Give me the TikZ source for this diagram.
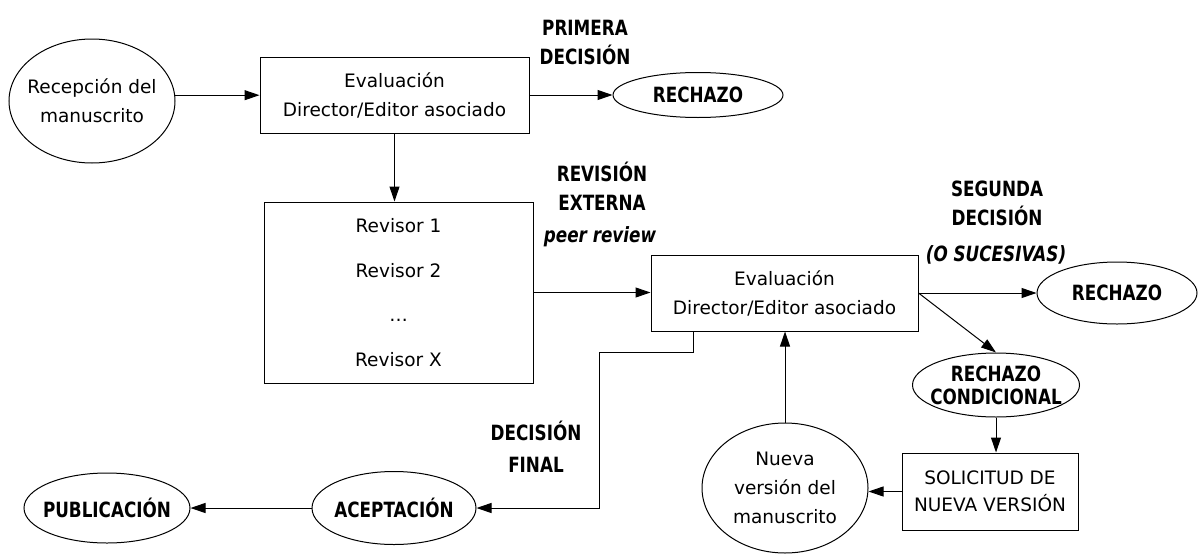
\documentclass[tikz,border=0pt]{standalone}
\usepackage{fontspec}
\setmainfont{DejaVu Sans}
\newfontfamily\labfont{DejaVu Sans}[FakeStretch=0.8]
\usetikzlibrary{shapes.geometric,arrows.meta}
\tikzset{
  txt/.style={font=\fontsize{18.5}{29}\selectfont, align=center, inner sep=0pt},
  lab/.style={font=\labfont\bfseries\fontsize{21}{29}\selectfont, align=center, inner sep=0pt},
  labit/.style={font=\labfont\bfseries\itshape\fontsize{21}{29}\selectfont, align=center, inner sep=0pt},
  box/.style={draw, rectangle, line width=1pt, inner sep=0pt, txt},
  ell/.style={draw, ellipse, line width=1pt, inner sep=0pt},
  arr/.style={line width=1pt, -{Triangle[length=15pt,width=10pt]}},
  ln/.style={line width=1pt}
}
\begin{document}
\begin{tikzpicture}[x=1pt,y=-1pt]
\useasboundingbox (0,0) rectangle (1198,554);
% nodes
\node[ell, minimum width=166pt, minimum height=124pt, label={[txt]center:Recepción del\\manuscrito}] (rec) at (92,101) {};
\node[box, minimum width=269pt, minimum height=76pt] (ev1) at (394.5,95) {Evaluación\\Director/Editor asociado};
\node[ell, minimum width=170pt, minimum height=45pt, label={[lab]center:RECHAZO}] (rech1) at (698,95) {};
\node[box, minimum width=269pt, minimum height=181pt, font=\fontsize{18.5}{44.7}\selectfont] (rev) at (398.5,292.5) {Revisor 1\\Revisor 2\\…\\Revisor X};
\node[box, minimum width=267pt, minimum height=76pt] (ev2) at (784.5,293) {Evaluación\\Director/Editor asociado};
\node[ell, minimum width=160pt, minimum height=62pt, label={[lab]center:RECHAZO}] (rech2) at (1117,293) {};
\node[ell, minimum width=167pt, minimum height=64pt, label={[lab, font=\labfont\bfseries\fontsize{21}{23}\selectfont]center:RECHAZO\\CONDICIONAL}] (rcond) at (996,385) {};
\node[box, minimum width=176pt, minimum height=77pt, font=\fontsize{18.5}{27}\selectfont] (sol) at (990,491.5) {SOLICITUD DE\\NUEVA VERSIÓN};
\node[ell, minimum width=166pt, minimum height=130pt, label={[txt]center:Nueva\\versión del\\manuscrito}] (nueva) at (785,488) {};
\node[ell, minimum width=164pt, minimum height=73pt, label={[lab]center:ACEPTACIÓN}] (acep) at (394,508) {};
\node[ell, minimum width=166pt, minimum height=70pt, label={[lab]center:PUBLICACIÓN}] (pub) at (107,508) {};
% labels
\node[lab] (l1) at (585,42) {PRIMERA\\DECISIÓN};
\node[lab] (l2) at (602,186) {REVISIÓN\\EXTERNA};
\node[labit] (l3) at (600,237) {peer review};
\node[lab] (l4) at (997,203) {SEGUNDA\\DECISIÓN};
\node[labit] (l5) at (996,255) {(O SUCESIVAS)};
\node[lab, font=\labfont\bfseries\fontsize{21}{32}\selectfont] (l6) at (536,447) {DECISIÓN\\FINAL};
% connectors
\draw[arr] (rec.4) -- (rec.4 -| ev1.west);
\draw[arr] (ev1.east) -- (ev1.east -| rech1.west);
\draw[arr] (ev1.south) -- (ev1.south |- rev.north);
\draw[arr] (rev.east) -- (rev.east -| ev2.west);
\draw[arr] (ev2.east) -- (rech2.west);
\draw[arr] (ev2.east) -- (rcond.north);
\draw[arr] (rcond.south) -- (rcond.south |- sol.north);
\draw[arr] (sol.west) -- (sol.west -| nueva.east);
\draw[arr] (nueva.north) -- (nueva.north |- ev2.south);
\coordinate (k1) at (599,352);
\draw[arr] ([xshift=-91.5pt]ev2.south) |- (k1) |- (acep.east);
\draw[arr] (acep.west) -- (pub.east);
\end{tikzpicture}
\end{document}
